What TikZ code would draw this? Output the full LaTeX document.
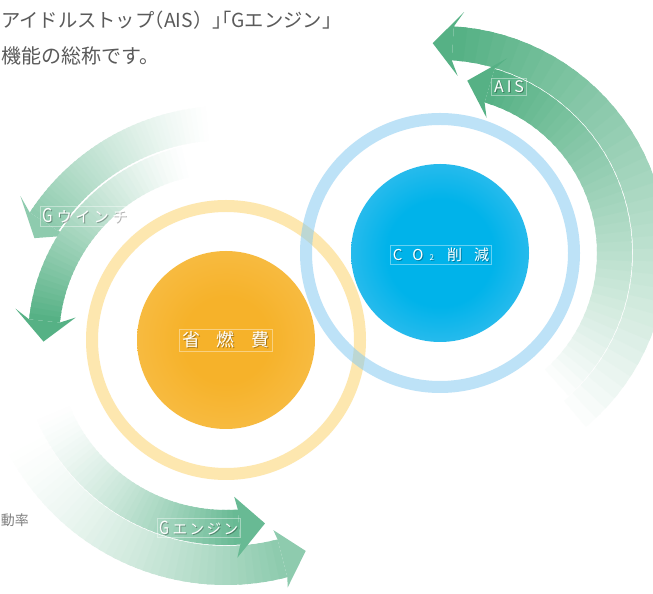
\documentclass[tikz,border=0pt]{standalone}
\usepackage{fontspec}
\usepackage{tikz}
\newfontfamily\jp{Noto Sans CJK JP}
\newcommand{\halt}{\addfontfeatures{RawFeature=+halt}}

\definecolor{orangein}{HTML}{F6B22A}
\definecolor{orangeout}{HTML}{FACB6A}
\definecolor{bluein}{HTML}{00B3EA}
\definecolor{blueout}{HTML}{86CDF1}
\definecolor{ringorange}{HTML}{FDD77A}
\definecolor{ringblue}{HTML}{88CBF1}
\definecolor{greendark}{HTML}{56B185}
\definecolor{greenmid}{HTML}{68BA94}
\definecolor{greenlight}{HTML}{8ECBAE}
\definecolor{textgray}{HTML}{5A5A5A}

\pgfdeclareradialshading{orangeball}{\pgfpoint{0bp}{0bp}}{color(0bp)=(orangein); color(12bp)=(orangein); color(50bp)=(orangeout)}
\pgfdeclareradialshading{blueball}{\pgfpoint{0bp}{0bp}}{color(0bp)=(bluein); color(15bp)=(bluein); color(50bp)=(blueout)}

\tikzset{
	tagtext/.style={text=white, inner sep=2.5pt, draw=white, draw opacity=0.4, line width=0.5pt},
	tagshadow/.style={text=black, text opacity=0.3, inner sep=2.5pt},
	bodytext/.style={text=textgray, inner sep=0pt}
}

% curved arrow: centre, inner r, outer r, tail, join, barb, tip, barb size, colour
\newcommand{\fadepow}{1}
\newcommand{\greenarrow}[9]{%
	\begin{scope}[shift={(#1)}]
		\foreach \k in {0,...,39} {
			\pgfmathsetmacro{\aone}{#4+\k*(#5-(#4))/40}
			\pgfmathsetmacro{\atwo}{min(\aone+1.5*(#5-(#4))/40,#5)}
			\pgfmathsetmacro{\mixp}{100*((\k+1)/40)^\fadepow}
			\fill[#9!\mixp!white] (\aone:#2) arc[start angle=\aone, end angle=\atwo, radius=#2]
				-- (\atwo:#3) arc[start angle=\atwo, end angle=\aone, radius=#3] -- cycle;
		}
		\fill[#9] (#5:#3) -- (#6:{#3+#8}) -- (#7:{(#2+#3)/2}) -- (#6:{#2-#8}) -- (#5:#2) -- cycle;
	\end{scope}}

% label with a soft shadow
\newcommand{\tagnode}[4]{%
	\node[tagshadow, font=\jp\fontsize{#3}{#3}\selectfont, xshift=1pt, yshift=-1pt] (#1shadow) at (#2) {#4};
	\node[tagtext, font=\jp\fontsize{#3}{#3}\selectfont] (#1) at (#2) {#4};}

\begin{document}
\begin{tikzpicture}[x=1pt, y=1pt]
	\useasboundingbox (0,0) rectangle (653,594);
	\fill[white] (0,0) rectangle (653,594);
	\clip (0,0) rectangle (653,594);

	\coordinate (O) at (226,254);
	\coordinate (B) at (440,341);

	% rings and balls
	\draw[ringorange, draw opacity=0.6, line width=12pt] (O) circle (134);
	\draw[ringblue, draw opacity=0.55, line width=12pt] (B) circle (134);
	\shade[shading=orangeball] (O) circle (89);
	\shade[shading=blueball] (B) circle (89);

	% arrows
	\renewcommand{\fadepow}{1.35}
	\greenarrow{O}{206}{245}{-152}{-75.5}{-76}{-69.3}{10}{greenlight}
	\greenarrow{O}{170}{205}{-157}{-86}{-87}{-78}{13}{greenmid}
	\renewcommand{\fadepow}{1.25}
	\greenarrow{O}{200}{234}{95}{147}{145}{152}{17}{greenlight}
	\greenarrow{O}{167}{198}{103}{174}{171.5}{180.5}{15}{greendark}
	\renewcommand{\fadepow}{1}
	\greenarrow{B}{193}{227}{-50}{86.5}{84.3}{92}{15}{greendark}
	\greenarrow{B}{157}{192}{-48}{73.5}{71}{81}{14}{greendark}

	% labels
	\tagnode{fuelsave}{226,254}{18}{省\hspace{17pt}燃\hspace{17pt}費}
	\tagnode{co2cut}{441,339}{15}{C\hspace{10pt}O\hspace{6pt}{\fontsize{8}{8}\selectfont 2}\hspace{13pt}削\hspace{12pt}減}
	\tagnode{aislabel}{509,507}{16}{A\hspace{3pt}I\hspace{3pt}S}
	\tagnode{winchlabel}{85,378}{15}{{\fontsize{19}{19}\selectfont\scalebox{0.8}[1]{G}}\hspace{4pt}ウ\hspace{3.5pt}イ\hspace{3.5pt}ン\hspace{3.5pt}チ}
	\tagnode{enginelabel}{199,66}{14.5}{{\fontsize{18}{18}\selectfont\scalebox{0.8}[1]{G}}\hspace{3pt}エ\hspace{2.5pt}ン\hspace{2.5pt}ジ\hspace{2.5pt}ン}

	% text
	\node[bodytext, anchor=east, font=\jp\fontsize{19.3}{19.3}\selectfont] (introone) at (332,574) {アイドルストップ{\halt（}AIS{）\halt 」「}Gエンジン{\halt 」}};
	\node[bodytext, anchor=east, font=\jp\fontsize{20}{20}\selectfont] (introtwo) at (160,538) {機能の総称です。};
	\node[bodytext, anchor=east, text=gray, font=\jp\fontsize{14}{14}\selectfont] (ratetext) at (29,74) {動率};
\end{tikzpicture}
\end{document}
